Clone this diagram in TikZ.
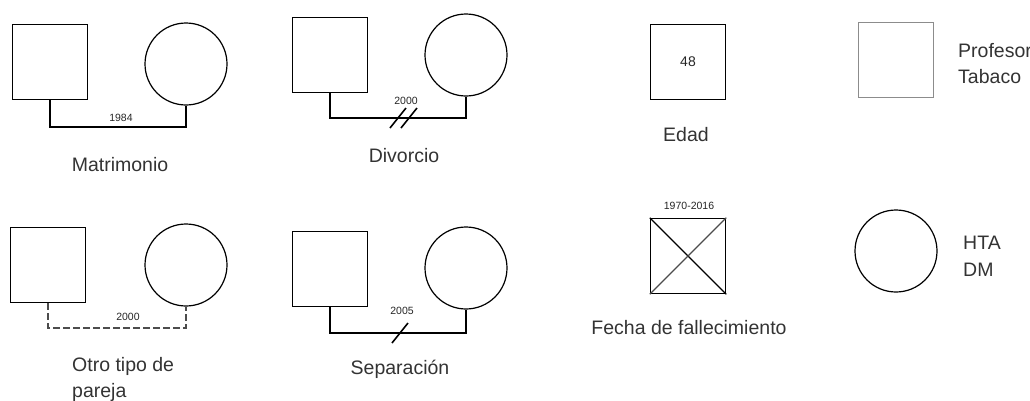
\documentclass[tikz,border=0pt]{standalone}
\usepackage{fontspec}
\setmainfont{Liberation Sans}
\begin{document}
\begin{tikzpicture}[x=1pt,y=-1pt,
  male/.style={draw=black, line width=1.5pt, rectangle, minimum size=75pt, inner sep=0pt},
  female/.style={draw=black, line width=1.2pt, circle, minimum size=82pt, inner sep=0pt},
  bond/.style={draw=black, line width=2pt},
  looseb/.style={draw=black!70, line width=1.6pt, dash pattern=on 7pt off 3pt},
  caption/.style={text=black!80, font=\fontsize{19.5}{23}\selectfont, inner sep=0pt},
  year/.style={text=black!85, font=\fontsize{10.5}{12}\selectfont, inner sep=0pt},
  cut/.style={draw=black, line width=1.6pt}]
\useasboundingbox (0,0) rectangle (1030,400);

% Matrimonio
\node[male]   (msq) at (50,62) {};
\node[female] (mci) at (186,64) {};
\coordinate (mbar) at (0,127);
\draw[bond] (msq.south) -- (msq.south |- mbar) -| (mci.south);
\node[year] (myr) at (121,118) {1984};
\node[caption] (mtx) at (120,165) {Matrimonio};

% Divorcio
\node[male]   (dsq) at (330,55) {};
\node[female] (dci) at (466,55) {};
\coordinate (dbar) at (0,118);
\draw[bond] (dsq.south) -- (dsq.south |- dbar) -| (dci.south);
\coordinate (dcut1) at (398,118);
\coordinate (dcut2) at (409,118);
\draw[cut] ([shift={(-8,10)}]dcut1) -- ([shift={(8,-10)}]dcut1);
\draw[cut] ([shift={(-8,10)}]dcut2) -- ([shift={(8,-10)}]dcut2);
\node[year] (dyr) at (406,101) {2000};
\node[caption] (dtx) at (404,156) {Divorcio};

% Edad
\node[male] (esq) at (688,62) {};
\node[font=\fontsize{14}{16}\selectfont, text=black!85] (eage) at (esq.center) {48};
\node[caption] (etx) at (686,135) {Edad};

% Profesor / Tabaco
\node[male, draw=black!45] (psq) at (896,60) {};
\node[caption, anchor=west] (ptx1) at (958,51) {Profesor};
\node[caption, anchor=west] (ptx2) at (958,77) {Tabaco};

% Otro tipo de pareja
\node[male]   (osq) at (48,265) {};
\node[female] (oci) at (186,265) {};
\coordinate (obar) at (0,328);
\draw[looseb] (osq.south) -- (osq.south |- obar) -| (oci.south);
\node[year] (oyr) at (128,317) {2000};
\node[caption, anchor=west] (otx1) at (72,366) {Otro tipo de};
\node[caption, anchor=west] (otx2) at (72,392) {pareja};

% Separación
\node[male]   (ssq) at (330,269) {};
\node[female] (sci) at (466,268) {};
\coordinate (sbar) at (0,333);
\draw[bond] (ssq.south) -- (ssq.south |- sbar) -| (sci.south);
\coordinate (scut) at (400,333);
\draw[cut] ([shift={(-8,10)}]scut) -- ([shift={(8,-10)}]scut);
\node[year] (syr) at (402,311) {2005};
\node[caption] (stx) at (400,369) {Separación};

% Fecha de fallecimiento
\node[male] (fsq) at (688,256) {};
\draw[line width=1.3pt] (fsq.north west) -- (fsq.south east);
\draw[line width=1.3pt, black!70] (fsq.south west) -- (fsq.north east);
\node[year] (fyr) at (689,206) {1970-2016};
\node[caption] (ftx) at (689,328) {Fecha de fallecimiento};

% HTA / DM
\node[female] (hci) at (896,251) {};
\node[caption, anchor=west] (htx1) at (963,243) {HTA};
\node[caption, anchor=west] (htx2) at (963,270) {DM};
\end{tikzpicture}
\end{document}
